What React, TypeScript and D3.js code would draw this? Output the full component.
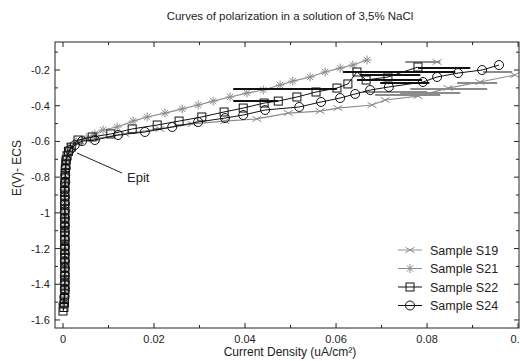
import React from "react";
import * as d3 from "d3";

const TITLE = "Curves of polarization in a solution of 3,5% NaCl";
const X_LABEL = "Current Density (uA/cm²)";
const Y_LABEL = "E(V)- ECS";

const xTicks = [0, 0.02, 0.04, 0.06, 0.08, 0.1];
const xTickLabels = ["0", "0.02", "0.04", "0.06", "0.08", "0.1"];
const xMinorTicks = [0.01, 0.03, 0.05, 0.07, 0.09];
const yTicks = [-0.2, -0.4, -0.6, -0.8, -1, -1.2, -1.4, -1.6];
const yTickLabels = ["-0.2", "-0.4", "-0.6", "-0.8", "-1", "-1.2", "-1.4", "-1.6"];
const yMinorTicks = [-0.1, -0.3, -0.5, -0.7, -0.9, -1.1, -1.3, -1.5];

const seriesNames = ["Sample S19", "Sample S21", "Sample S22", "Sample S24"];

// [current density, potential]
const s19: [number, number][] = [
  [0.0001, -1.5], [0.0003, -1.45], [0.0004, -1.4], [0.0004, -1.35], [0.0004, -1.3], [0.0004, -1.25],
  [0.0004, -1.2], [0.0004, -1.15], [0.0004, -1.1], [0.0004, -1.05], [0.0004, -1.0], [0.0004, -0.95],
  [0.0004, -0.9], [0.0004, -0.85], [0.0005, -0.8], [0.0005, -0.75], [0.0007, -0.704],
  [0.002, -0.631], [0.0037, -0.598], [0.007, -0.586], [0.0136, -0.558], [0.0213, -0.53],
  [0.0284, -0.502], [0.0356, -0.486], [0.0426, -0.474], [0.0495, -0.441], [0.0565, -0.43],
  [0.0604, -0.413], [0.0679, -0.396], [0.0708, -0.368], [0.078, -0.346], [0.0846, -0.301],
  [0.0916, -0.267], [0.0993, -0.228],
];
const s19Spikes: [number, number, number][] = [
  [0.0659, 0.08, -0.323], [0.0686, 0.0829, -0.34], [0.0763, 0.0932, -0.306],
  [0.0866, 0.0954, -0.273], [0.0741, 0.0873, -0.329], [0.0923, 0.0987, -0.211],
  [0.0752, 0.0829, -0.155],
];
const s19Outliers: [number, number][] = [[0.0822, -0.155]];

const s21: [number, number][] = [
  [0.0001, -1.52], [0.0003, -1.47], [0.0004, -1.42], [0.0004, -1.37], [0.0004, -1.32], [0.0004, -1.27],
  [0.0004, -1.22], [0.0004, -1.17], [0.0004, -1.12], [0.0004, -1.07], [0.0004, -1.02], [0.0004, -0.97],
  [0.0004, -0.92], [0.0004, -0.87], [0.0005, -0.82], [0.0005, -0.77], [0.0006, -0.72],
  [0.0007, -0.676], [0.0015, -0.631], [0.0029, -0.603], [0.0051, -0.581], [0.007, -0.558],
  [0.0088, -0.536], [0.0119, -0.519], [0.0154, -0.486], [0.0185, -0.463], [0.0224, -0.441],
  [0.0262, -0.418], [0.0297, -0.396], [0.033, -0.374], [0.0367, -0.351], [0.0404, -0.329],
  [0.044, -0.312], [0.0477, -0.284], [0.0505, -0.262], [0.0543, -0.239], [0.0576, -0.211],
  [0.0609, -0.189], [0.0637, -0.172], [0.0668, -0.144],
];

const s22: [number, number][] = [
  [0.0, -1.55], [0.0002, -1.53], [0.0003, -1.505], [0.0003, -1.48], [0.0004, -1.455], [0.0004, -1.43],
  [0.0004, -1.405], [0.0004, -1.38], [0.0004, -1.355], [0.0004, -1.33], [0.0004, -1.305], [0.0004, -1.28],
  [0.0004, -1.255], [0.0004, -1.23], [0.0004, -1.205], [0.0004, -1.18], [0.0004, -1.155], [0.0004, -1.13],
  [0.0004, -1.105], [0.0004, -1.08], [0.0004, -1.055], [0.0004, -1.03], [0.0004, -1.005], [0.0004, -0.98],
  [0.0004, -0.955], [0.0004, -0.93], [0.0004, -0.905], [0.0004, -0.88], [0.0004, -0.855], [0.0004, -0.83],
  [0.0005, -0.805], [0.0005, -0.78], [0.0005, -0.755], [0.0006, -0.73], [0.0007, -0.705], [0.0009, -0.68],
  [0.0012, -0.655], [0.0018, -0.632], [0.0033, -0.592], [0.0064, -0.575], [0.0105, -0.558],
  [0.0152, -0.53], [0.0207, -0.508], [0.0255, -0.486], [0.0305, -0.463], [0.0354, -0.435],
  [0.0396, -0.413], [0.0442, -0.385], [0.0473, -0.374], [0.0514, -0.351], [0.0556, -0.323],
  [0.0602, -0.301], [0.0626, -0.278], [0.0646, -0.211], [0.0666, -0.256], [0.0714, -0.239],
  [0.078, -0.183],
];
const s22Spikes: [number, number, number][] = [
  [0.0374, 0.0602, -0.306], [0.0374, 0.0473, -0.374], [0.0615, 0.0862, -0.211],
  [0.0653, 0.0785, -0.228], [0.078, 0.0895, -0.189],
];

const s24: [number, number][] = [
  [0.0001, -1.51], [0.0003, -1.47], [0.0004, -1.43], [0.0004, -1.39], [0.0004, -1.35], [0.0004, -1.31],
  [0.0004, -1.27], [0.0004, -1.23], [0.0004, -1.19], [0.0004, -1.15], [0.0004, -1.11], [0.0004, -1.07],
  [0.0004, -1.03], [0.0004, -0.99], [0.0004, -0.95], [0.0004, -0.91], [0.0004, -0.87], [0.0005, -0.83],
  [0.0005, -0.79], [0.0006, -0.75], [0.0007, -0.704], [0.0015, -0.648], [0.0026, -0.62],
  [0.0042, -0.598], [0.007, -0.592], [0.0121, -0.564], [0.018, -0.547], [0.024, -0.519],
  [0.0297, -0.491], [0.0356, -0.469], [0.0396, -0.452], [0.0444, -0.424], [0.0519, -0.407],
  [0.0567, -0.379], [0.0609, -0.357], [0.0642, -0.334], [0.0675, -0.312], [0.0716, -0.295],
  [0.0791, -0.267], [0.0822, -0.239], [0.0868, -0.217], [0.0921, -0.2], [0.0958, -0.172],
];
const s24Spikes: [number, number, number][] = [
  [0.0646, 0.0789, -0.256], [0.0697, 0.0805, -0.273],
];

const W = 520;
const H = 361;
const PL = 55, PR = 519, PT = 42, PB = 328;

const GRAY = "#8c8c8c";
const DARK = "#111";

function Marker({ kind, x, y, color }: { kind: string; x: number; y: number; color: string }) {
  if (kind === "x") {
    const r = 4.5;
    return (
      <g stroke={color} strokeWidth={1} fill="none">
        <line x1={x - r} y1={y - r * 0.6} x2={x + r} y2={y + r * 0.6} />
        <line x1={x - r} y1={y + r * 0.6} x2={x + r} y2={y - r * 0.6} />
      </g>
    );
  }
  if (kind === "star") {
    const r = 4.5, d = 3.2;
    return (
      <g stroke={color} strokeWidth={1} fill="none">
        <line x1={x - r} y1={y} x2={x + r} y2={y} />
        <line x1={x} y1={y - r} x2={x} y2={y + r} />
        <line x1={x - d} y1={y - d} x2={x + d} y2={y + d} />
        <line x1={x - d} y1={y + d} x2={x + d} y2={y - d} />
      </g>
    );
  }
  if (kind === "square") {
    return <rect x={x - 4} y={y - 4} width={8} height={8} fill="none" stroke={color} strokeWidth={1} />;
  }
  return <circle cx={x} cy={y} r={4.5} fill="none" stroke={color} strokeWidth={1} />;
}

export default function App() {
  const x = d3.scaleLinear().domain([-0.00176, 0.1002]).range([PL, PR]);
  const y = d3.scaleLinear().domain([-1.645, -0.043]).range([PB, PT]);
  const line = d3.line<[number, number]>().x((d) => x(d[0])).y((d) => y(d[1]));

  const series = [
    { data: s19, spikes: s19Spikes, color: GRAY, kind: "x", w: 1.2 },
    { data: s21, spikes: [] as [number, number, number][], color: GRAY, kind: "star", w: 1.2 },
    { data: s22, spikes: s22Spikes, color: DARK, kind: "square", w: 1 },
    { data: s24, spikes: s24Spikes, color: DARK, kind: "circle", w: 1 },
  ];

  const font = "Arial, 'Liberation Sans', sans-serif";
  const legendY0 = 250;
  const legendDy = 18.5;

  return (
    <svg width={W} height={H} style={{ position: "absolute", left: 0, top: 0, background: "#fff" }} fontFamily={font}>
      <rect x={0} y={0} width={W} height={H} fill="#fff" />
      <text x={290} y={20} textAnchor="middle" fontSize={11.5} fill="#222">{TITLE}</text>

      <defs>
        <clipPath id="plotclip">
          <rect x={PL} y={PT} width={PR - PL} height={PB - PT} />
        </clipPath>
      </defs>

      <g clipPath="url(#plotclip)">
        {series.map((s, i) => (
          <g key={i}>
            {s.spikes.map((sp, j) => (
              <line key={j} x1={x(sp[0])} x2={x(sp[1])} y1={y(sp[2])} y2={y(sp[2])} stroke={s.color} strokeWidth={2} />
            ))}
            <path d={line(s.data) || ""} fill="none" stroke={s.color} strokeWidth={s.w} />
            {s.data.map((d, j) => (
              <Marker key={j} kind={s.kind} x={x(d[0])} y={y(d[1])} color={s.color} />
            ))}
          </g>
        ))}
        {s19Outliers.map((d, j) => (
          <Marker key={"o" + j} kind="x" x={x(d[0])} y={y(d[1])} color={GRAY} />
        ))}
      </g>

      {/* frame */}
      <rect x={PL} y={PT} width={PR - PL} height={PB - PT} fill="none" stroke="#222" strokeWidth={1} />

      {/* x ticks */}
      {xTicks.map((t, i) => (
        <g key={"xt" + i}>
          <line x1={x(t)} x2={x(t)} y1={PB} y2={PB - 5} stroke="#222" />
          <line x1={x(t)} x2={x(t)} y1={PT} y2={PT + 5} stroke="#222" />
          <text x={x(t)} y={PB + 15} textAnchor="middle" fontSize={11} fill="#222">{xTickLabels[i]}</text>
        </g>
      ))}
      {xMinorTicks.map((t, i) => (
        <g key={"xm" + i}>
          <line x1={x(t)} x2={x(t)} y1={PB} y2={PB - 3} stroke="#222" />
          <line x1={x(t)} x2={x(t)} y1={PT} y2={PT + 3} stroke="#222" />
        </g>
      ))}
      {yTicks.map((t, i) => (
        <g key={"yt" + i}>
          <line x1={PL} x2={PL + 5} y1={y(t)} y2={y(t)} stroke="#222" />
          <line x1={PR} x2={PR - 5} y1={y(t)} y2={y(t)} stroke="#222" />
          <text x={PL - 5} y={y(t) + 4} textAnchor="end" fontSize={11} fill="#222">{yTickLabels[i]}</text>
        </g>
      ))}
      {yMinorTicks.map((t, i) => (
        <g key={"ym" + i}>
          <line x1={PL} x2={PL + 3} y1={y(t)} y2={y(t)} stroke="#222" />
          <line x1={PR} x2={PR - 3} y1={y(t)} y2={y(t)} stroke="#222" />
        </g>
      ))}

      <text x={290} y={356} textAnchor="middle" fontSize={12} fill="#222">{X_LABEL}</text>
      <text transform={`translate(21,168) rotate(-90)`} textAnchor="middle" fontSize={12} fill="#222">{Y_LABEL}</text>

      {/* Epit annotation */}
      <line x1={77} y1={153} x2={122} y2={173} stroke="#222" strokeWidth={1} />
      <text x={127} y={182} fontSize={13} fill="#222">Epit</text>

      {/* legend */}
      {series.map((s, i) => {
        const ly = legendY0 + i * legendDy;
        return (
          <g key={"lg" + i}>
            <line x1={398} x2={422} y1={ly} y2={ly} stroke={s.color} strokeWidth={1} />
            <Marker kind={s.kind} x={410} y={ly} color={s.color} />
            <text x={430} y={ly + 4.5} fontSize={12.5} fill="#222">{seriesNames[i]}</text>
          </g>
        );
      })}
    </svg>
  );
}
